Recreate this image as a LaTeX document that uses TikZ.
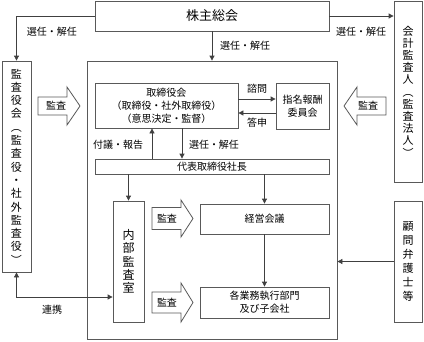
\documentclass[tikz,border=0pt]{standalone}
\usepackage{fontspec}
\setmainfont{Noto Sans CJK JP}
\usetikzlibrary{arrows.meta}
\begin{document}
\begin{tikzpicture}[x=1pt,y=-1pt,
  box/.style={draw=black!65,line width=0.8pt,inner sep=0pt,align=center,font=\fontsize{10}{13}\selectfont},
  vbox/.style={box,font=\fontsize{11}{13.3}\selectfont},
  lbl/.style={inner sep=0pt,font=\fontsize{10}{12}\selectfont},
  conn/.style={draw=black!75,line width=0.8pt,-{Triangle[length=5pt,width=5pt]}},
  blk/.style={draw=black!65,line width=0.8pt,fill=white}]
\useasboundingbox (0,0) rectangle (424,341);
% boxes
\node[box,minimum width=234,minimum height=30,font=\fontsize{13}{15}\selectfont] (kabu) at (212,16) {株主総会};
\node[vbox,minimum width=29,minimum height=211] (kansayaku) at (16.5,166.5) {監\\査\\役\\会\\︵\\監\\査\\役\\・\\社\\外\\監\\査\\役\\︶};
\node[vbox,minimum width=28,minimum height=181,font=\fontsize{11}{12.2}\selectfont] (kaikei) at (408,91.5) {会\\計\\監\\査\\人\\︵\\監\\査\\法\\人\\︶};
\node[vbox,minimum width=28,minimum height=121,font=\fontsize{11}{14}\selectfont] (komon) at (408,261.5) {顧\\問\\弁\\護\\士\\等};
\node[box,minimum width=250,minimum height=278] (outer) at (212,200) {};
\node[box,minimum width=143,minimum height=45] (tori) at (166.5,105.5) {取締役会\\（取締役・社外取締役）\\（意思決定・監督）};
\node[box,minimum width=53,minimum height=46] (shimei) at (302.5,106) {指名報酬\\委員会};
\node[box,minimum width=234,minimum height=15] (daihyo) at (212,166.5) {代表取締役社長};
\node[vbox,minimum width=31,minimum height=121,font=\fontsize{12}{13.3}\selectfont] (naibu) at (128.5,261.5) {内\\部\\監\\査\\室};
\node[box,minimum width=129,minimum height=30] (keiei) at (264.5,219) {経営会議};
\node[box,minimum width=129,minimum height=31] (kakugyo) at (264.5,302.5) {各業務執行部門\\及び子会社};
% connectors
\draw[conn] (kabu.west) -| (kansayaku.north);
\draw[conn] (kabu.south) -- (outer.north);
\draw[conn] (kabu.east) -- (kabu.east -| kaikei.west);
\draw[conn,{Triangle[length=5pt,width=5pt]}-{Triangle[length=5pt,width=5pt]}] (kansayaku.south) |- (naibu.west |- 0,297);
\draw[conn] (komon.west) -- (komon.west -| outer.east);
\draw[conn] (tori.east |- 0,99) -- (shimei.west |- 0,99);
\draw[conn] (shimei.west |- 0,113) -- (tori.east |- 0,113);
\draw[conn] (daihyo.north -| 152,0) -- (tori.south -| 152,0);
\draw[conn] (tori.south -| 182,0) -- (daihyo.north -| 182,0);
\draw[conn] (daihyo.south -| naibu.north) -- (naibu.north);
\draw[conn] (daihyo.south -| keiei.north) -- (keiei.north);
\draw[conn] (keiei.south) -- (kakugyo.north);
% labels
\node[lbl] (l1) at (52,32) {選任・解任};
\node[lbl] (l2) at (245,46) {選任・解任};
\node[lbl] (l3) at (361,32) {選任・解任};
\node[lbl] (l4) at (257,89) {諮問};
\node[lbl] (l5) at (257,123) {答申};
\node[lbl] (l6) at (118,145) {付議・報告};
\node[lbl] (l7) at (214,145) {選任・解任};
\node[lbl] (l8) at (52,310) {連携};
% block arrows
\draw[blk] (38,97) -- (67,97) -- (67,87) -- (80,106) -- (67,125) -- (67,115) -- (38,115) -- cycle;
\node[lbl] (k1) at (56,106) {監査};
\draw[blk] (386,97) -- (357,97) -- (357,87) -- (344,106) -- (357,125) -- (357,115) -- (386,115) -- cycle;
\node[lbl] (k2) at (368,106) {監査};
\draw[blk] (152,207.5) -- (181,207.5) -- (181,200) -- (193,218.5) -- (181,237) -- (181,229.5) -- (152,229.5) -- cycle;
\node[lbl] (k3) at (167,218.5) {監査};
\draw[blk] (152,292) -- (181,292) -- (181,283) -- (193,302.5) -- (181,322) -- (181,313) -- (152,313) -- cycle;
\node[lbl] (k4) at (167,302.5) {監査};
\end{tikzpicture}
\end{document}
